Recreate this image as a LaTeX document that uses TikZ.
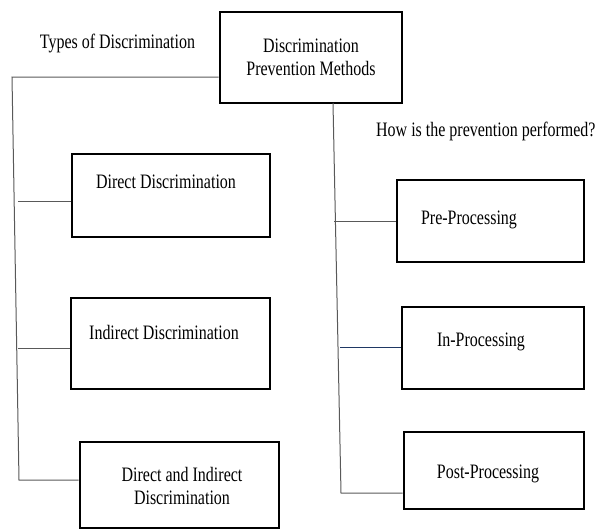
\documentclass[tikz,border=0pt]{standalone}
\usepackage{fontspec}
\setmainfont[FakeStretch=0.78]{Liberation Serif}
\usetikzlibrary{positioning,calc}

\begin{document}
\begin{tikzpicture}[x=1pt, y=-1pt, font=\fontsize{20.5}{23}\selectfont,
  box node/.style={draw, line width=2.8pt, inner sep=0pt},
  conn/.style={draw=black!65, line width=1pt},
  txt node/.style={inner sep=0pt, align=center}]
\useasboundingbox (0,0) rectangle (595,531);
% boxes
\node[box node, minimum width=182pt, minimum height=91pt, align=center] (top) at (311,57.5) {Discrimination\\Prevention Methods};
\node[box node, minimum width=198pt, minimum height=83pt] (direct) at (171,195.5) {};
\node[box node, minimum width=199pt, minimum height=91pt] (indirect) at (170.5,343.5) {};
\node[box node, minimum width=199pt, minimum height=86pt] (both) at (179.5,485) {};
\node[box node, minimum width=187pt, minimum height=82pt] (pre) at (490.5,221) {};
\node[box node, minimum width=182pt, minimum height=82pt] (in) at (493,348) {};
\node[box node, minimum width=180pt, minimum height=77pt] (post) at (494,470.5) {};
% texts
\node[txt node] (types) at (117.5,43) {Types of Discrimination};
\node[txt node, anchor=west] (how) at (376,131) {How is the prevention performed?};
\node[txt node] (directtxt) at (166,182) {Direct Discrimination};
\node[txt node] (indirecttxt) at (164,332) {Indirect Discrimination};
\node[txt node] (bothtxt) at (182,485.5) {Direct and Indirect\\Discrimination};
\node[txt node] (pretxt) at (469,220) {Pre-Processing};
\node[txt node] (intxt) at (481,342) {In-Processing};
\node[txt node] (posttxt) at (488,474) {Post-Processing};
% left tree
\coordinate (tl) at (12,77);
\coordinate (bl) at (19,480);
\coordinate (b1) at (18,201);
\coordinate (b2) at (18,348);
\draw[conn] (top.west |- tl) -- (tl) -- (bl) -- (bl -| both.west);
\draw[conn] (b1) -- (b1 -| direct.west);
\draw[conn] (b2) -- (b2 -| indirect.west);
% right tree
\coordinate (rt) at (333,103);
\coordinate (rb) at (341,493);
\coordinate (p1) at (334,221);
\coordinate (p2) at (340,347);
\draw[conn] (rt) -- (rb) -- (rb -| post.west);
\draw[conn] (p1) -- (p1 -| pre.west);
\draw[conn, draw={rgb,255:red,31;green,56;blue,100}] (p2) -- (p2 -| in.west);
\end{tikzpicture}
\end{document}
